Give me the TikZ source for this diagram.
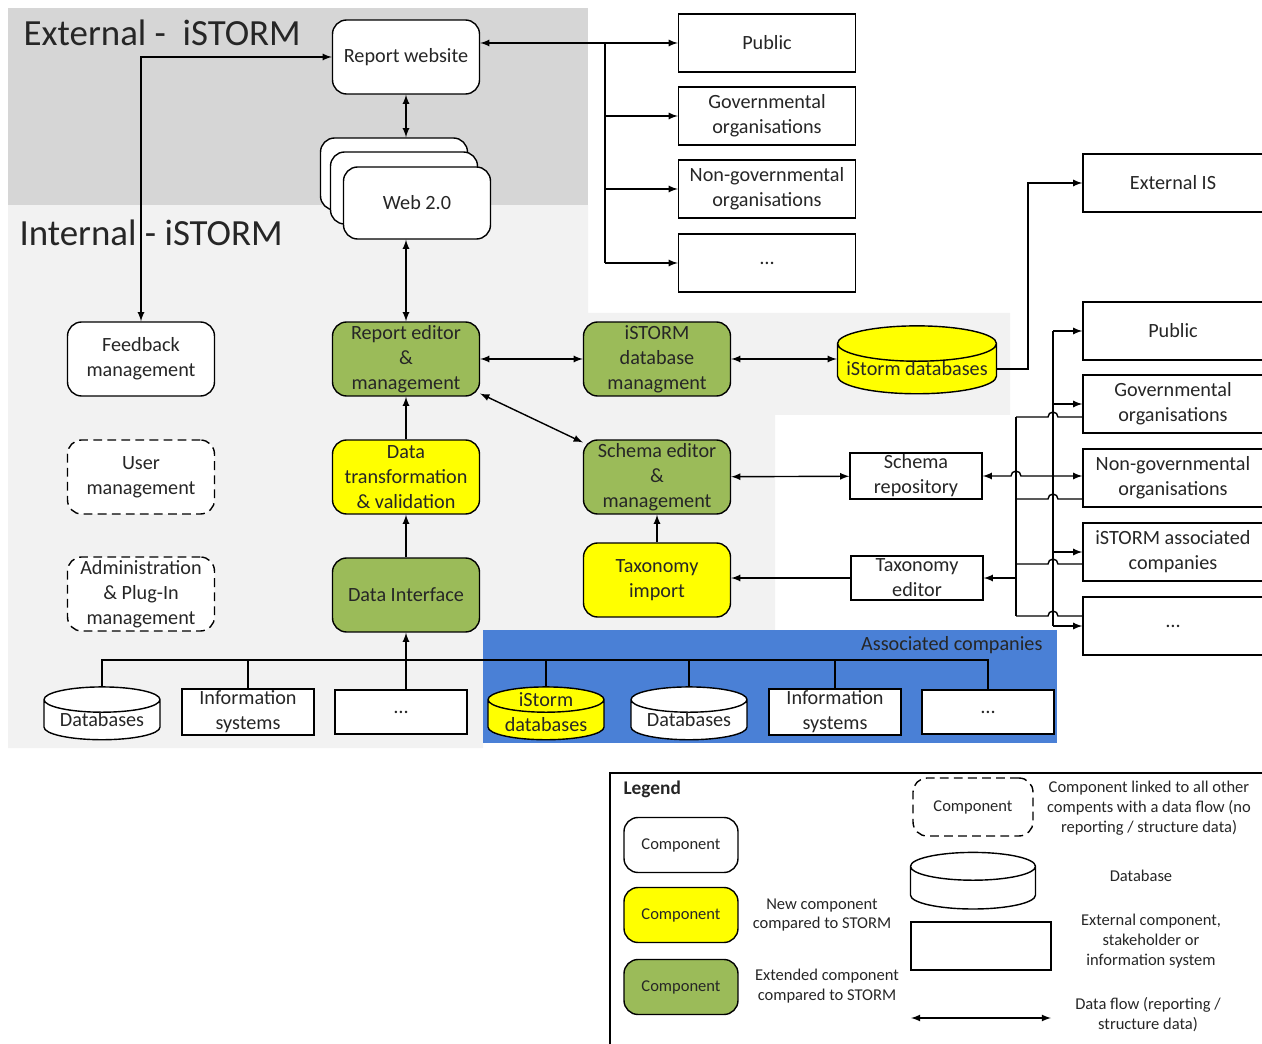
\documentclass[tikz,border=0pt]{standalone}
\usepackage{fontspec}
\setmainfont{Carlito}
\usetikzlibrary{shapes.geometric,calc}

\definecolor{extgray}{RGB}{214,214,214}
\definecolor{intgray}{RGB}{242,242,242}
\definecolor{assocblue}{RGB}{74,128,214}
\definecolor{newyellow}{RGB}{255,255,0}
\definecolor{extgreen}{RGB}{155,187,89}

\begin{document}
\begin{tikzpicture}[
        x=0.02cm, y=-0.02cm,
        line width=0.8pt,
        every node/.style={font=\fontsize{11.5}{14.2}\selectfont, text=black!85},
        comp/.style={draw, rounded corners=8pt, fill=white, align=center,
            minimum width=2.94cm, minimum height=1.48cm, inner sep=1pt},
        newcomp/.style={comp, fill=newyellow},
        extcomp/.style={comp, fill=extgreen},
        linkcomp/.style={comp, dash pattern=on 5pt off 3pt},
        stake/.style={draw, fill=white, align=center,
            minimum width=3.54cm, minimum height=1.16cm, inner sep=1pt},
        sysbox/.style={draw, fill=white, align=center,
            minimum width=2.64cm, minimum height=0.88cm, inner sep=1pt},
        db/.style={draw, fill=white, cylinder, shape border rotate=90,
            aspect=0.3, minimum width=2.32cm, minimum height=0.86cm,
            inner sep=0pt, align=center},
        dbtext/.style={label={[align=center]center:#1}},
        legend/.style={font=\fontsize{9.4}{11.3}\selectfont},
    ]
        \def\hop{arc[start angle=180, end angle=0, radius=2.83pt]}
        \useasboundingbox (0,0) rectangle (1262,1044);

        % regions
        \fill[intgray] (8,205) -- (588,205) -- (588,313) -- (1010,313)
            -- (1010,415) -- (775,415) -- (775,630) -- (483,630)
            -- (483,748) -- (8,748) -- cycle;
        \fill[extgray] (8,8) rectangle (588,205);
        \fill[assocblue] (483,630) rectangle (1057,743);

        \node[anchor=west, font=\fontsize{21}{25}\selectfont] (ttlext) at (17,33) {External -\ \ iSTORM};
        \node[anchor=west, font=\fontsize{21}{25}\selectfont] (ttlint) at (13,233) {Internal - iSTORM};
        \node[anchor=east] (assoc) at (1049,645) {Associated companies};

        % components
        \node[comp] (rw) at (406,57) {Report website};
        \node[comp, minimum height=1.44cm] (web1) at (394,174) {};
        \node[comp, minimum height=1.44cm] (web2) at (404,188) {};
        \node[comp, minimum height=1.44cm] (web) at (417,203) {Web 2.0};
        \node[comp] (fb) at (141,359) {Feedback\\management};
        \node[linkcomp] (um) at (141,477) {User\\management};
        \node[linkcomp] (adm) at (141,594) {Administration\\\& Plug-In\\management};
        \node[extcomp] (re) at (406,359) {Report editor\\\&\\management};
        \node[newcomp] (dt) at (406,477) {Data\\transformation\\\& validation};
        \node[extcomp] (di) at (406,595) {Data Interface};
        \node[extcomp] (dbm) at (657,359) {iSTORM\\database\\managment};
        \node[extcomp] (se) at (657,477) {Schema editor\\\&\\management};
        \node[newcomp] (ti) at (657,580) {Taxonomy\\import};
        \node[db, fill=newyellow, aspect=0.25, minimum width=3.18cm, minimum height=1.02cm,
            dbtext=iStorm databases] (idb) at (917,369) {\phantom{iStorm databases}};
        \node[sysbox] (sr) at (916,476) {Schema\\repository};
        \node[sysbox] (te) at (917,578) {Taxonomy\\editor};

        % stakeholders
        \node[stake] (p1) at (767,43) {Public};
        \node[stake] (g1) at (767,116) {Governmental\\organisations};
        \node[stake] (n1) at (767,189) {Non-governmental\\organisations};
        \node[stake] (d1) at (767,263) {\dots};
        \node[stake, minimum width=3.6cm] (ext) at (1173,183) {External IS};
        \node[stake, minimum width=3.6cm] (p2) at (1173,331) {Public};
        \node[stake, minimum width=3.6cm] (g2) at (1173,404) {Governmental\\organisations};
        \node[stake, minimum width=3.6cm] (n2) at (1173,478) {Non-governmental\\organisations};
        \node[stake, minimum width=3.6cm] (a2) at (1173,552) {iSTORM associated\\companies};
        \node[stake, minimum width=3.6cm] (d2) at (1173,626) {\dots};

        % sources
        \node[db, dbtext=Databases] (b1) at (102,720) {\phantom{Databases}};
        \node[sysbox] (b2) at (248,712) {Information\\systems};
        \node[sysbox] (b3) at (401,712) {\dots};
        \node[db, fill=newyellow, label={[align=center, yshift=4.5pt]center:iStorm\\databases}] (b4) at (546,720) {\phantom{Databases}};
        \node[db, dbtext=Databases] (b5) at (689,720) {\phantom{Databases}};
        \node[sysbox] (b6) at (835,712) {Information\\systems};
        \node[sysbox] (b7) at (988,712) {\dots};

        \coordinate (bus) at (0,660);
        \coordinate (hubT) at (605,0);
        \coordinate (hubC) at (1028,0);
        \coordinate (hubA) at (1053,0);
        \coordinate (hubB) at (1016,0);

        % flows
        \draw[latex-latex] (rw.south) -- (rw.south |- web1.north);
        \draw[latex-latex] (re.north) -- (re.north |- web.south);
        \draw[latex-latex] (rw.west) -| (fb.north);
        \draw[latex-latex] (rw.east |- p1) -- (p1.west);
        \draw (hubT |- p1) -- (hubT |- d1);
        \foreach \n in {g1, n1, d1}
            \draw[-latex] (hubT |- \n) -- (\n.west);
        \draw[latex-latex] (re) -- (dbm);
        \draw[latex-latex] (dbm) -- (dbm -| idb.west);
        \draw[-latex] (idb.east) -- (idb.east -| hubC) |- (ext.west);
        \draw[latex-latex] (re.-25) -- (se.155);
        \draw[-latex] (dt) -- (re);
        \draw[-latex] (di) -- (dt);
        \draw[-latex] (ti) -- (se);
        \draw[latex-latex] (se) -- (sr);
        \draw[-latex] (te.west) -- (te.west -| ti.east);
        \draw[-latex] (b3.north -| di.south) -- (di.south);
        \draw (b1.north) -- (b1.north |- bus) -- (b7.north |- bus) -- (b7.north);
        \foreach \n in {b2, b4, b5, b6}
            \draw (\n.north) -- (\n.north |- bus);

        % stakeholder fan
        \draw[latex-latex] (sr.east) -- ($(hubB |- sr.east)+(-5,0)$) \hop
            -- (sr.east -| n2.west);
        \draw (hubA |- p2) -- (hubA |- d2);
        \foreach \n in {p2, g2, a2, d2}
            \draw[-latex] (hubA |- \n) -- (\n.west);
        \coordinate (tg) at ([yshift=-0.26cm]g2.west);
        \coordinate (tn) at ([yshift=-0.42cm]n2.west);
        \coordinate (ta) at ([yshift=-0.24cm]a2.west);
        \coordinate (td) at ([yshift=0.2cm]d2.west);
        \foreach \t in {tg, tn, ta, td}
            \draw (hubB |- \t) -- ($(hubA |- \t)+(-5,0)$) \hop -- (\t);
        \draw (hubB |- tg) -- (hubB |- td);
        \draw[-latex] (hubB |- te.east) -- (te.east);

        % legend
        \draw (610,773) rectangle (1275,1055);
        \node[anchor=west, font=\fontsize{11}{13}\selectfont\bfseries] (lgd) at (617,789) {Legend};
        \node[comp, legend, minimum width=2.28cm, minimum height=1.1cm] (lc1) at (681,845) {Component};
        \node[newcomp, legend, minimum width=2.28cm, minimum height=1.1cm] (lc2) at (681,915) {Component};
        \node[extcomp, legend, minimum width=2.28cm, minimum height=1.1cm] (lc3) at (681,987) {Component};
        \node[legend, align=center] (lt2) at (822,915) {New component\\compared to STORM};
        \node[legend, align=center] (lt3) at (827,986) {Extended component\\compared to STORM};
        \node[linkcomp, legend, minimum width=2.4cm, minimum height=1.16cm] (lc4) at (973,807) {Component};
        \node[legend, align=center] (lt4) at (1149,808) {Component linked to all other\\compents with a data flow (no\\reporting / structure data)};
        \node[db, aspect=0.33, minimum width=2.5cm, minimum height=0.86cm] (lcyl) at (973,888) {\phantom{Databases}};
        \node[legend] (lt5) at (1141,876) {Database};
        \node[draw, fill=white, minimum width=2.8cm, minimum height=0.96cm] (lbox) at (981,946) {};
        \node[legend, align=center] (lt6) at (1151,941) {External component,\\stakeholder or\\information system};
        \coordinate (la) at (911,1018);
        \coordinate (lb) at (1051,1018);
        \draw[latex-latex] (la) -- (lb);
        \node[legend, align=center] (lt7) at (1148,1015) {Data flow (reporting /\\structure data)};
    \end{tikzpicture}
\end{document}
